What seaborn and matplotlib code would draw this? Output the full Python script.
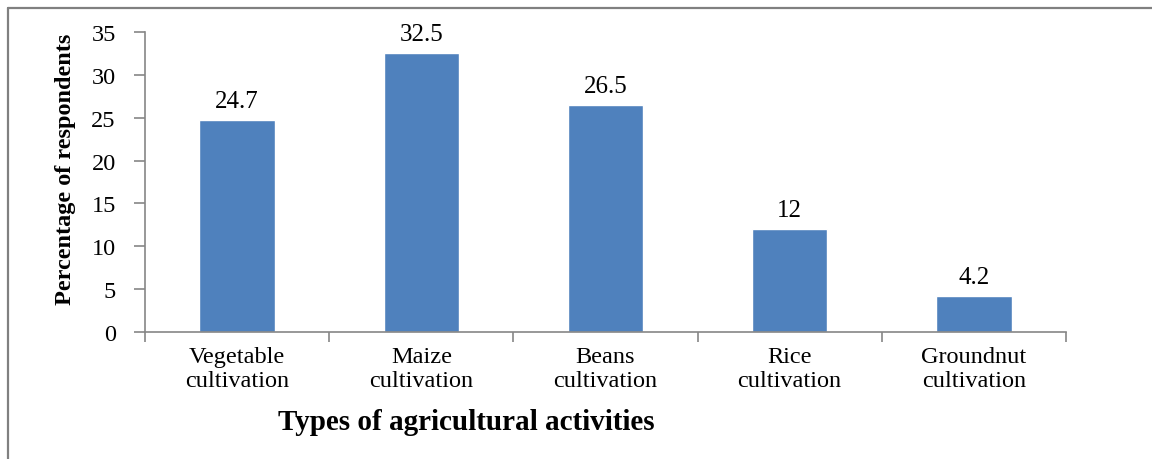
import matplotlib
matplotlib.use("Agg")
import matplotlib.pyplot as plt
import seaborn as sns
import pandas as pd
from matplotlib.lines import Line2D

activities = [
    "Vegetable\ncultivation",
    "Maize\ncultivation",
    "Beans\ncultivation",
    "Rice\ncultivation",
    "Groundnut\ncultivation",
]
percentages = [24.7, 32.5, 26.5, 12, 4.2]
value_labels = ["24.7", "32.5", "26.5", "12", "4.2"]
y_ticks = [0, 5, 10, 15, 20, 25, 30, 35]

sns.set_style("white")
plt.rcParams["font.family"] = ["Liberation Serif", "DejaVu Serif"]
plt.rcParams["text.color"] = "black"
plt.rcParams["axes.labelcolor"] = "black"

df = pd.DataFrame({"Activity": activities, "Percent": percentages})

fig = plt.figure(figsize=(11.52, 4.6), dpi=100)
ax = fig.add_axes([0.1259, 0.2761, 0.7994, 0.6522])

sns.barplot(data=df, x="Activity", y="Percent", color="#4F81BD",
            width=0.41, saturation=1, ax=ax)

for i, (v, lab) in enumerate(zip(percentages, value_labels)):
    ax.text(i, v + 1.55, lab, ha="center", va="baseline", fontsize=18)

grey = "#868686"
ax.set_xlim(-0.5, len(activities) - 0.5)
ax.set_ylim(0, 35)
ax.set_yticks(y_ticks)
ax.tick_params(axis="y", labelsize=17.5, length=8, width=1.2, color=grey, pad=13, left=True,
               labelcolor="black")
ax.tick_params(axis="x", which="major", length=0, labelsize=17.5, pad=10, labelcolor="black")
ax.set_xticks([i - 0.5 for i in range(len(activities) + 1)], minor=True)
ax.tick_params(axis="x", which="minor", length=7, width=1.2, color=grey, bottom=True)
for lab in ax.get_xticklabels():
    lab.set_linespacing(1.2)

for s in ["top", "right"]:
    ax.spines[s].set_visible(False)
for s in ["left", "bottom"]:
    ax.spines[s].set_color(grey)
    ax.spines[s].set_linewidth(1.2)

ax.set_xlabel("Types of agricultural activities", fontsize=21, fontweight="bold")
ax.xaxis.set_label_coords(0.349, -0.255)
ax.xaxis.label.set_va("top")
ax.set_ylabel("Percentage of respondents", fontsize=17.5, fontweight="bold")
ax.yaxis.set_label_coords(-0.075, 0.545)

# outer frame (left and top edges only)
fig.add_artist(Line2D([8 / 1152, 8 / 1152], [0, 1 - 8.5 / 460], transform=fig.transFigure,
                      color="#808080", linewidth=1.6))
fig.add_artist(Line2D([8 / 1152, 1], [1 - 8.5 / 460, 1 - 8.5 / 460], transform=fig.transFigure,
                      color="#808080", linewidth=1.6))

fig.savefig("out.png", dpi=100)
